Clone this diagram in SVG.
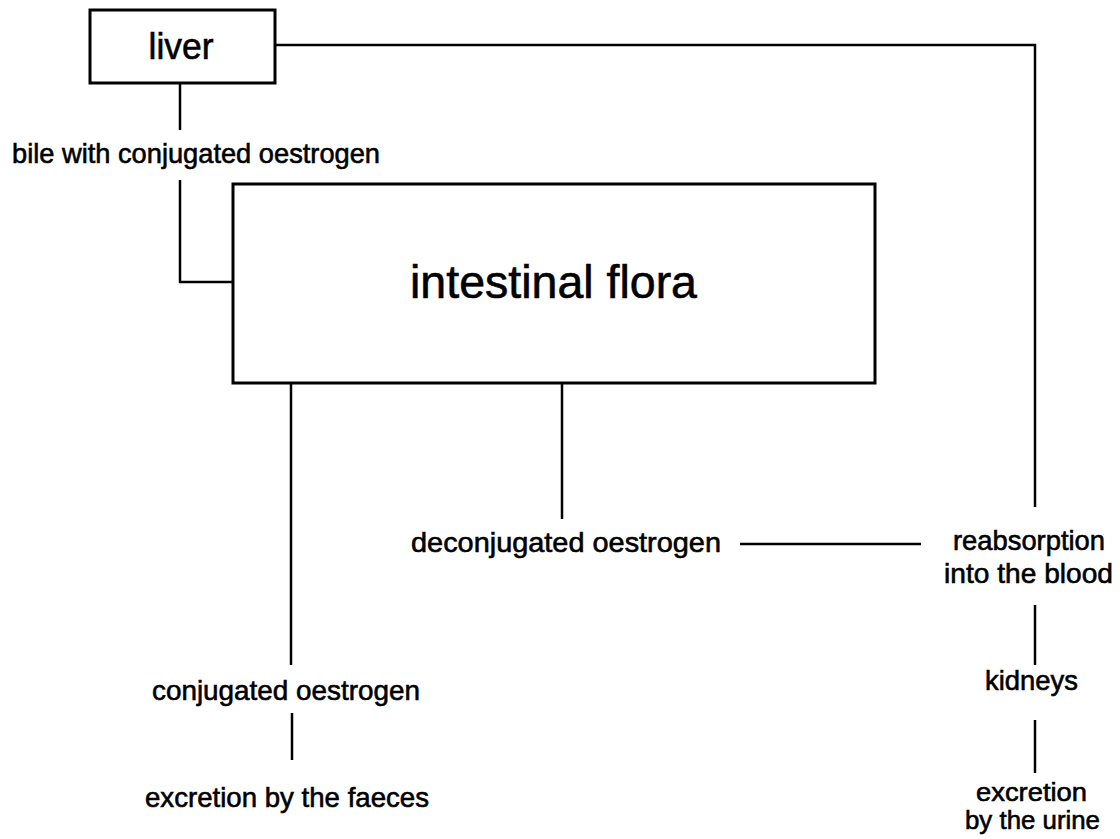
<svg xmlns="http://www.w3.org/2000/svg" width="1120" height="839" viewBox="0 0 1120 839">
<style>
  .box { fill: #ffffff; stroke: #000000; stroke-width: 3; }
  .line { fill: none; stroke: #000000; stroke-width: 2.5; }
  text { font-family: "Liberation Sans", Arial, sans-serif; fill: #000000; text-anchor: middle; stroke: #000000; stroke-width: 0.6; }
  .lbl { font-size: 28px; }
  .sm { font-size: 26px; }
</style>
<rect width="1120" height="839" fill="#ffffff"/>
<g id="connectors">
  <polyline class="line" points="275,45 1035,45 1035,507"/>
  <line class="line" x1="180" y1="83" x2="180" y2="130"/>
  <polyline class="line" points="180,180 180,282 233,282"/>
  <line class="line" x1="291" y1="383" x2="291" y2="665"/>
  <line class="line" x1="562" y1="383" x2="562" y2="519"/>
  <line class="line" x1="740" y1="544" x2="921" y2="544"/>
  <line class="line" x1="1035" y1="605" x2="1035" y2="665"/>
  <line class="line" x1="1035" y1="720" x2="1035" y2="773"/>
  <line class="line" x1="292" y1="713" x2="292" y2="760"/>
</g>
<g id="liver">
  <rect class="box" x="90" y="10" width="185" height="73"/>
  <text x="181" y="59" font-size="37" textLength="65" lengthAdjust="spacingAndGlyphs">liver</text>
</g>
<g id="bile">
  <text class="lbl" x="196" y="163" textLength="368" lengthAdjust="spacingAndGlyphs">bile with conjugated oestrogen</text>
</g>
<g id="intestinal-flora">
  <rect class="box" x="233" y="184" width="642" height="199"/>
  <text x="553.5" y="298" font-size="46" textLength="287" lengthAdjust="spacingAndGlyphs">intestinal flora</text>
</g>
<g id="deconjugated">
  <text class="lbl" x="566" y="552" textLength="310" lengthAdjust="spacingAndGlyphs">deconjugated oestrogen</text>
</g>
<g id="reabsorption">
  <text class="lbl" x="1029" y="550" textLength="152" lengthAdjust="spacingAndGlyphs">reabsorption</text>
  <text class="lbl" x="1028.5" y="583" textLength="169" lengthAdjust="spacingAndGlyphs">into the blood</text>
</g>
<g id="kidneys">
  <text class="lbl" x="1031.5" y="690" textLength="93" lengthAdjust="spacingAndGlyphs">kidneys</text>
</g>
<g id="excretion-urine">
  <text class="sm" x="1031.5" y="801" textLength="111" lengthAdjust="spacingAndGlyphs">excretion</text>
  <text class="sm" x="1032.5" y="829" textLength="135" lengthAdjust="spacingAndGlyphs">by the urine</text>
</g>
<g id="conjugated">
  <text class="lbl" x="286" y="700" textLength="268" lengthAdjust="spacingAndGlyphs">conjugated oestrogen</text>
</g>
<g id="excretion-faeces">
  <text class="lbl" x="287" y="807" textLength="284" lengthAdjust="spacingAndGlyphs">excretion by the faeces</text>
</g>
</svg>
